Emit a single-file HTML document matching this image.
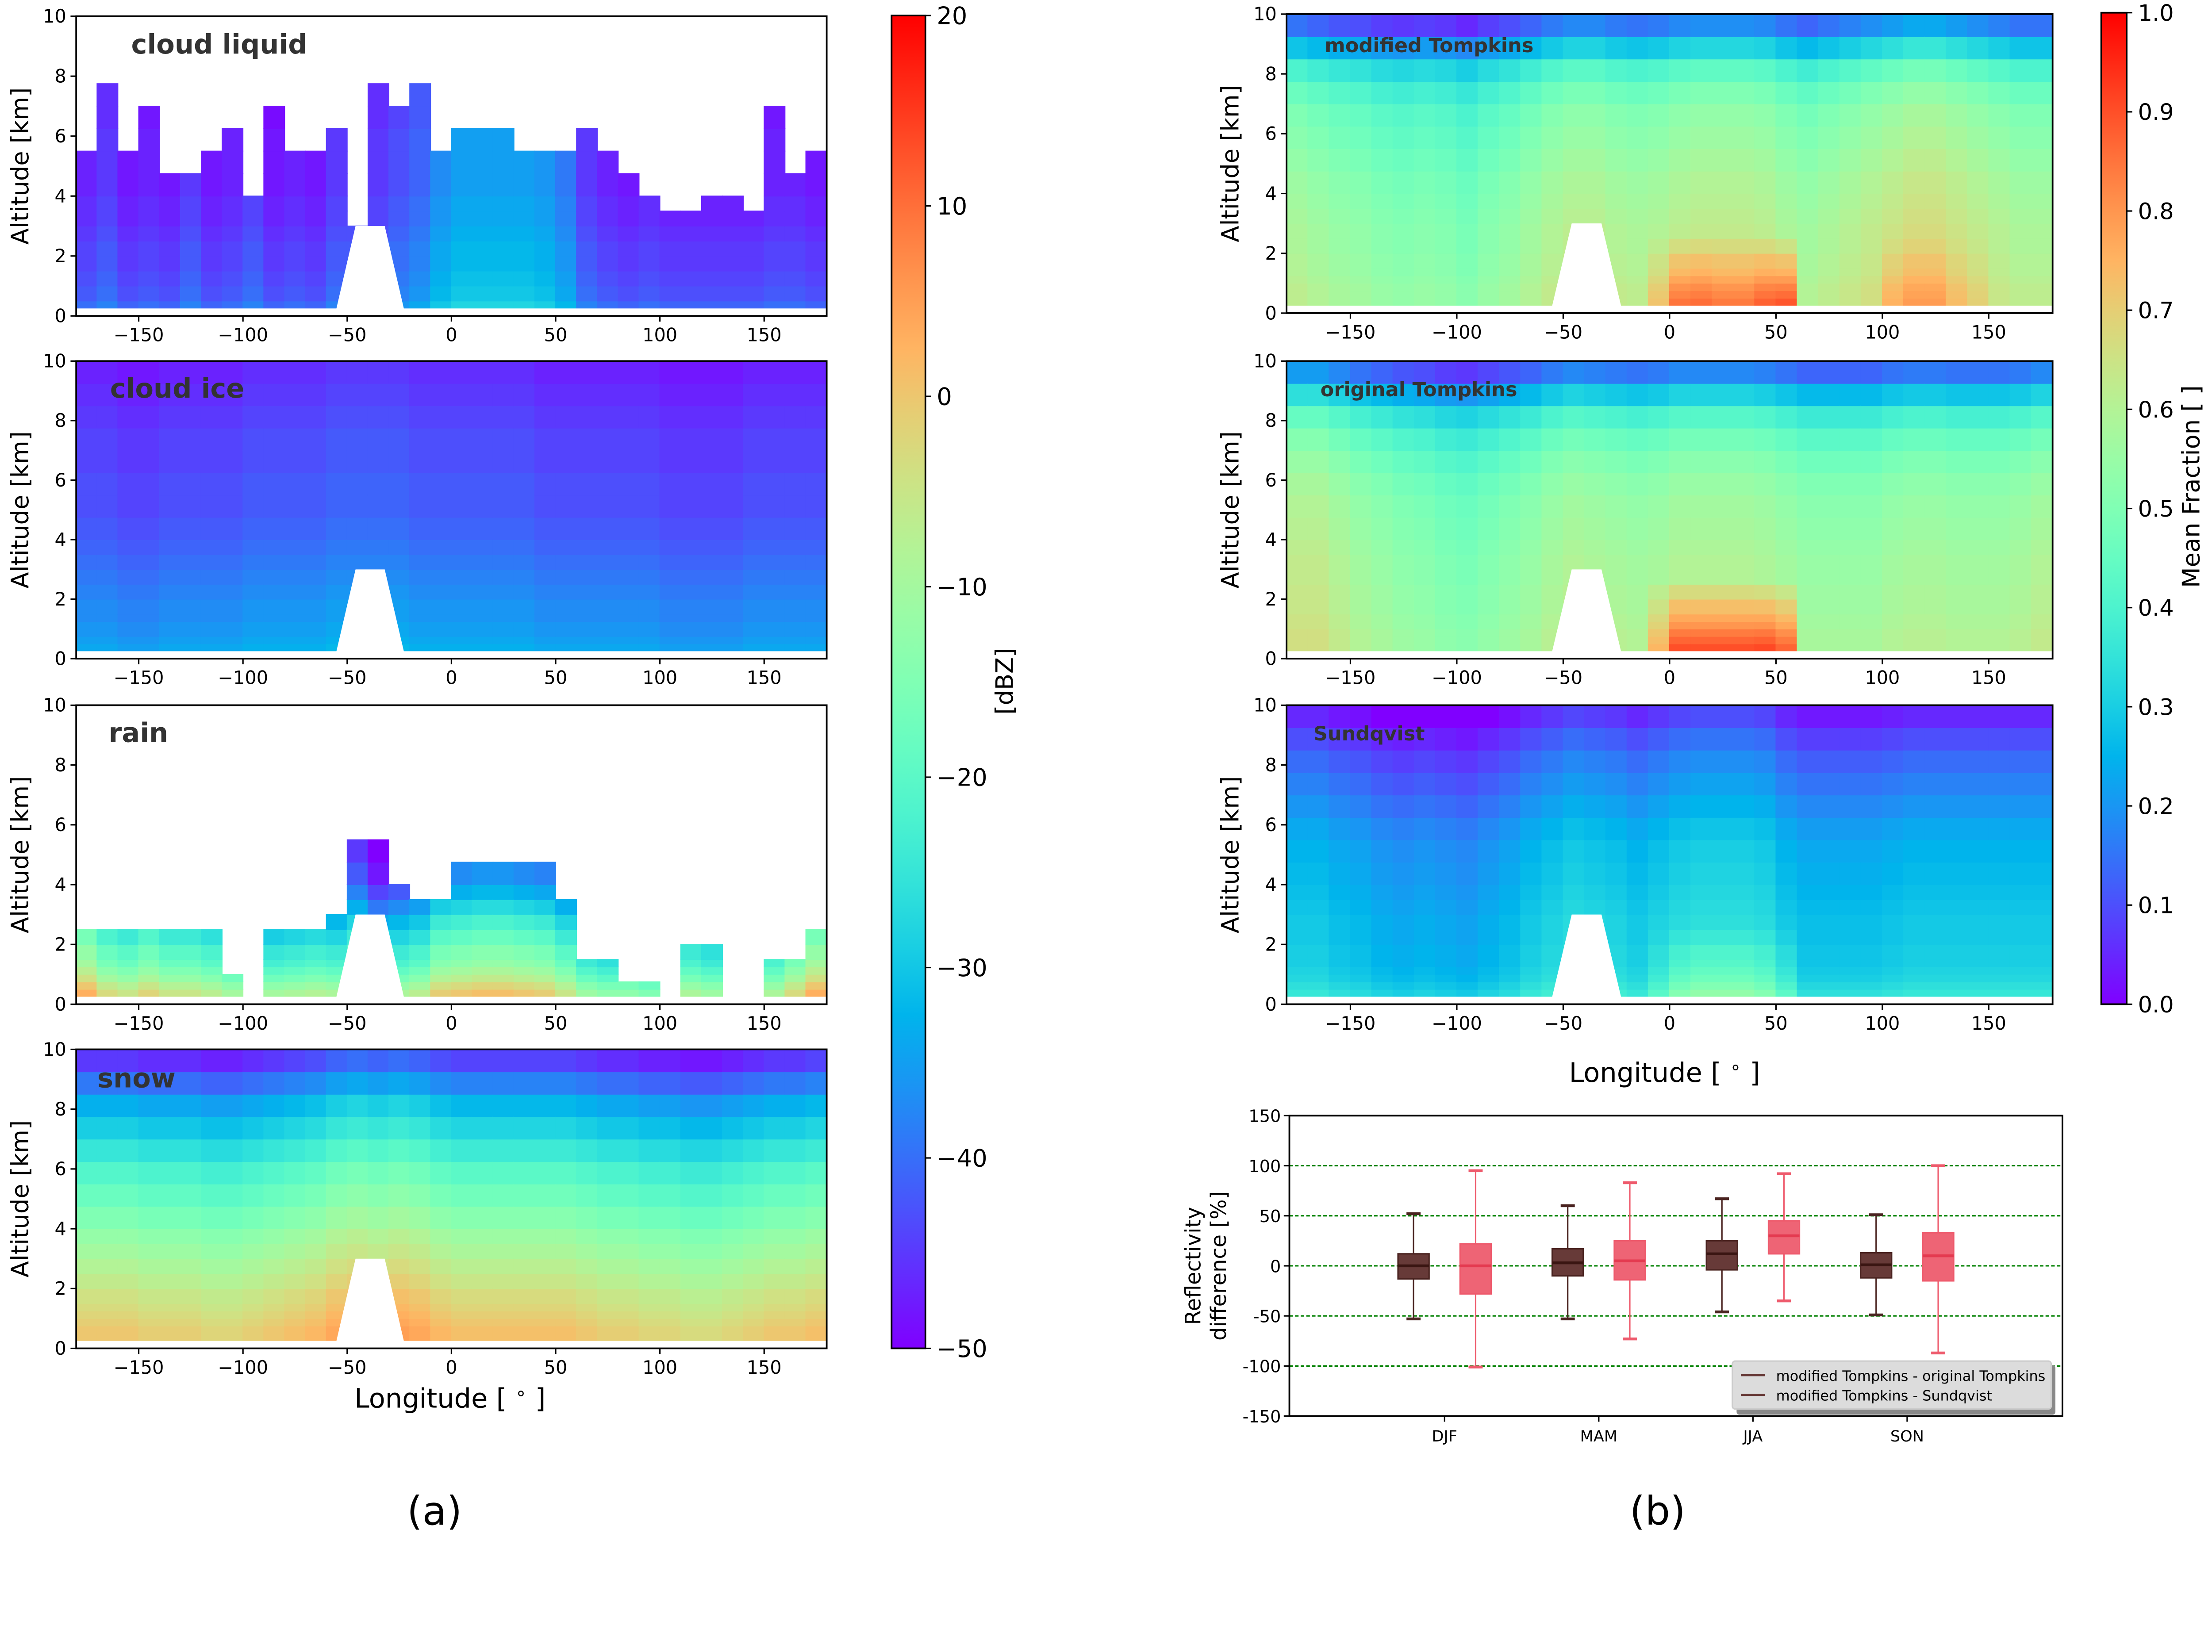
<!DOCTYPE html>
<html><head><meta charset="utf-8"><style>
html,body{margin:0;padding:0;background:#fff;overflow:hidden}
svg{display:block;position:absolute;left:0;top:0;width:100vw;height:69.6438vw}
text{font-family:"DejaVu Sans","Liberation Sans",sans-serif}
</style></head><body>
<svg id="fig" xmlns="http://www.w3.org/2000/svg" viewBox="0 0 1568 1092" preserveAspectRatio="none">
<rect width="1568" height="1092" fill="#fff"/>
<g id="layer"></g>
</svg>
<script>
// ---------- data ----------
const lonBins = Array.from({length:36},(_,i)=>-180+i*10);
const altEdges = [0.25,0.5,0.75,1,1.25,1.5,2,2.5,3,3.5,4,4.75,5.5,6.25,7,7.75,8.5,9.25,10];
const liquidProfile = [-38,-40,-40,-41,-41,-42,-42,-43,-44,-44,-45,-45,-45,-46,-46,-46,-46,-46];
const liquidLonMod = [-2,0,-3,-2,-3,0,-3,-2,0,-3,-2,-3,0,0,0,2,4,8,10,10,10,10,9,6,0,-2,-3,-2,-3,-3,-3,-3,-3,-2,-2,-3];
const liquidTops = [5.5,7.75,5.5,7,4.75,4.75,5.5,6.25,4,7,5.5,5.5,6.25,3,7.75,7,7.75,5.5,6.25,6.25,6.25,5.5,5.5,5.5,6.25,5.5,4.75,4,3.5,3.5,4,4,3.5,7,4.75,5.5];
const iceProfile = [-34,-35,-36,-36,-37,-37,-38,-39,-40,-41,-42,-43,-43,-44,-44,-45,-46,-47];
const iceLonMod = [0,0,-1,-1,0,0,0,0,1,1,1,1,2,2,2,2,1,1,1,1,1,1,0,0,0,0,0,0,-1,-1,-1,-1,0,0,0,0];
const rainProfile = [-5,-8,-12,-15,-18,-20,-24,-28,-33,-38,-42,-45,-47,-48,-48,-48,-48,-48];
const rainLonMod = [8,2,0,3,0,0,-2,-5,-8,-5,-4,-3,-4,0,-6,-4,-2,4,5,6,6,5,4,0,-6,-8,-8,-10,-6,-4,-6,-8,-6,-4,2,8];
const rainTops = [2.5,2.5,2.5,2.5,2.5,2.5,2.5,1,0,2.5,2.5,2.5,3,5,5,4,3.5,3.5,4.5,4.5,4.5,4.5,4.5,3.5,1.5,1.5,0.75,0.75,0,2,2,0,0,1.5,1.5,2.5];
const snowProfile = [1,1,0,-1,-2,-3,-5,-7,-9,-11,-14,-17,-20,-24,-28,-32,-38,-44];
const snowLonMod = [-1,-1,-1,-2,-2,-2,-3,-3,-2,-1,0,1,3,4,3,4,3,1,0,0,0,0,0,0,-1,-2,-2,-3,-3,-4,-4,-3,-2,-1,-1,0];
const modProfile = [0.6,0.6,0.6,0.59,0.58,0.58,0.57,0.57,0.56,0.55,0.54,0.52,0.5,0.48,0.44,0.38,0.26,0.13];
const modLonMod = [0.02,0,-0.02,-0.03,-0.05,-0.06,-0.05,-0.06,-0.08,-0.05,-0.03,0,0.03,0.05,0.05,0.03,0.02,0.03,0.05,0.06,0.06,0.06,0.05,0.02,0,0.02,0.04,0.06,0.08,0.1,0.1,0.08,0.06,0.04,0.02,0.02];
const modLowBoost = [0,0,0,0,0,0,0,0,0,0,0,0,0,0,0,0,0,0.1,0.22,0.22,0.2,0.2,0.25,0.3,0,0,0,0,0.08,0.1,0.1,0.06,0.04,0,0,0];
const origProfile = [0.58,0.58,0.58,0.57,0.57,0.56,0.56,0.55,0.55,0.54,0.53,0.52,0.5,0.47,0.43,0.37,0.26,0.13];
const origLonMod = [0.08,0.08,0.05,0.02,0,-0.02,-0.03,-0.05,-0.06,-0.04,-0.02,0,0.03,0.05,0.04,0.03,0.02,0.03,0.05,0.05,0.05,0.05,0.04,0.02,0,0,0,0,0.02,0.03,0.03,0.02,0.02,0.02,0.03,0.05];
const origLowBoost = [0,0,0,0,0,0,0,0,0,0,0,0,0,0,0,0,0,0.15,0.3,0.3,0.3,0.3,0.32,0.3,0,0,0,0,0,0,0,0,0,0,0,0];
const sundProfile = [0.36,0.34,0.32,0.31,0.3,0.3,0.29,0.29,0.28,0.27,0.26,0.25,0.23,0.2,0.17,0.14,0.1,0.05];
const sundLonMod = [0,0,-0.02,-0.03,-0.05,-0.06,-0.05,-0.06,-0.07,-0.05,-0.03,0,0.02,0.04,0.03,0.02,0,0.02,0.04,0.05,0.05,0.05,0.04,0,-0.02,-0.02,-0.02,-0.02,-0.01,0,0,0,0,0,0,0];
const sundLowBoost = [0,0,0,0,0,0,0,0,0,0,0,0,0,0,0,0,0,0.05,0.12,0.14,0.14,0.14,0.12,0.08,0,0,0,0,0,0,0,0,0,0,0,0];
const seasons = ["DJF","MAM","JJA","SON"];
const origWhiskLo = [-53,-53,-46,-49], origQ1=[-13,-10,-4,-12], origMed=[0,3,12,1], origQ3=[12,17,25,13], origWhiskHi=[52,60,67,51];
const sundWhiskLo = [-101,-73,-35,-87], sundQ1=[-28,-14,12,-15], sundMed=[0,5,30,10], sundQ3=[22,25,45,33], sundWhiskHi=[95,83,92,100];
const lonTicks = [-150,-100,-50,0,50,100,150];
const altTicks = [0,2,4,6,8,10];
const dbzTicks = [20,10,0,-10,-20,-30,-40,-50];
const fracTicks = [1.0,0.9,0.8,0.7,0.6,0.5,0.4,0.3,0.2,0.1,0.0];
const boxTicks = [150,100,50,0,-50,-100,-150];

const NS="http://www.w3.org/2000/svg";
const layer=document.getElementById('layer');
function mk(tag,attrs,parent){const e=document.createElementNS(NS,tag);for(const k in attrs)e.setAttribute(k,attrs[k]);(parent||layer).appendChild(e);return e;}
function rainbow(x){x=Math.max(0,Math.min(1,x));const r=Math.min(1,Math.abs(2*x-0.5)),g=Math.sin(Math.PI*x),b=Math.cos(Math.PI*x/2);
 return `rgb(${Math.round(r*255)},${Math.round(g*255)},${Math.round(b*255)})`;}

function panel(cfg){
 const {x0,x1,y0,y1,name}=cfg;
 const xs=l=>x0+(l+180)/360*(x1-x0);
 const ys=a=>y1-a/10*(y1-y0);
 const g=mk('g',{});
 
 
 const cid='clip-'+name;
 const cp=mk('clipPath',{id:cid},g);mk('rect',{x:x0,y:y0,width:x1-x0,height:y1-y0},cp);
 const cells=mk('g',{'clip-path':`url(#${cid})`},g);
 for(let i=0;i<lonBins.length;i++){
  for(let j=0;j<altEdges.length-1;j++){
   const a0=altEdges[j],a1=altEdges[j+1];
   if(cfg.tops){ if(a0>=cfg.tops[i]) continue; }
   let v=cfg.profile[j]+cfg.lonMod[i];
   if(cfg.low){const f=Math.max(0,1-(a0)/2.5);v+=cfg.low[i]*f;}
   const c=rainbow((v-cfg.vmin)/(cfg.vmax-cfg.vmin));
   const r=mk('rect',{x:xs(lonBins[i])-0.3,y:ys(a1)-0.3,width:xs(10)-xs(0)+0.6,height:ys(a0)-ys(a1)+0.6,fill:c,stroke:'none'},cells);
   
   
  }
 }
 const m=mk('polygon',{points:`${xs(-56)},${ys(0)} ${xs(-46)},${ys(3)} ${xs(-32)},${ys(3)} ${xs(-22)},${ys(0)}`,fill:'#fff'},g);
 
 
 mk('rect',{x:x0,y:ys(0.25),width:x1-x0,height:ys(0)-ys(0.25),fill:'#fff'},g);
 mk('rect',{x:x0,y:y0,width:x1-x0,height:y1-y0,fill:'none',stroke:'#000','stroke-width':1.2},g);
 for(const t of lonTicks){mk('line',{x1:xs(t),x2:xs(t),y1:y1,y2:y1+4,stroke:'#000'},g);
  const tx=mk('text',{x:xs(t),y:y1+18,'font-size':13,'text-anchor':'middle'},g);tx.textContent=(t<0?'\u2212'+(-t):t);}
 for(const t of altTicks){mk('line',{x1:x0-4,x2:x0,y1:ys(t),y2:ys(t),stroke:'#000'},g);
  const tx=mk('text',{x:x0-7,y:ys(t)+4.5,'font-size':13,'text-anchor':'end'},g);tx.textContent=t;}
 const yl=mk('text',{x:0,y:0,'font-size':17,'text-anchor':'middle',transform:`translate(${x0-34},${(y0+y1)/2}) rotate(-90)`},g);
 yl.textContent='Altitude [km]';
 
 
 const tt=mk('text',{x:cfg.tx,y:cfg.ty,'font-size':cfg.tfs,'font-weight':'bold',fill:'#333'},g);
 tt.textContent=cfg.title;
 
 
}

const L={x0:54,x1:586,vmin:-50,vmax:20};
panel({...L,y0:11.5,y1:224,name:'cloud-liquid-panel',profile:liquidProfile,lonMod:liquidLonMod,tops:liquidTops,title:'cloud liquid',tx:93,ty:38,tfs:19});
panel({...L,y0:256,y1:467,name:'cloud-ice-panel',profile:iceProfile,lonMod:iceLonMod,title:'cloud ice',tx:78,ty:282,tfs:19});
panel({...L,y0:500,y1:712,name:'rain-panel',profile:rainProfile,lonMod:rainLonMod,tops:rainTops,title:'rain',tx:77,ty:526,tfs:19});
panel({...L,y0:744,y1:956,name:'snow-panel',profile:snowProfile,lonMod:snowLonMod,title:'snow',tx:69,ty:771,tfs:19});
const R={x0:912,x1:1455,vmin:0,vmax:1};
panel({...R,y0:10,y1:222,name:'modified-tompkins-panel',profile:modProfile,lonMod:modLonMod,low:modLowBoost,title:'modified Tompkins',tx:939,ty:37,tfs:14});
panel({...R,y0:256,y1:467,name:'original-tompkins-panel',profile:origProfile,lonMod:origLonMod,low:origLowBoost,title:'original Tompkins',tx:936,ty:281,tfs:14});
panel({...R,y0:500,y1:712,name:'sundqvist-panel',profile:sundProfile,lonMod:sundLonMod,low:sundLowBoost,title:'Sundqvist',tx:931,ty:525,tfs:14});

function xlabel(x,y,name){const t=mk('text',{x:x,y:y,'font-size':19,'text-anchor':'middle'});t.innerHTML='Longitude [ <tspan font-size="13" dy="-6">\u2218</tspan><tspan dy="6"> ]</tspan>';
 
 }
xlabel(319,998,'x-axis-title-left');xlabel(1180,767,'x-axis-title-right');

function colorbar(cfg){
 const g=mk('g',{});
 
 
 const gid='grad-'+cfg.name;const defs=mk('defs',{},g);const lg=mk('linearGradient',{id:gid,x1:0,y1:1,x2:0,y2:0},defs);
 for(let k=0;k<=20;k++)mk('stop',{offset:k/20,'stop-color':rainbow(k/20)},lg);
 mk('rect',{x:cfg.x,y:cfg.y0,width:cfg.w,height:cfg.y1-cfg.y0,fill:`url(#${gid})`,stroke:'#000','stroke-width':1.2},g);
 for(const t of cfg.ticks){const y=cfg.y1-(t-cfg.vmin)/(cfg.vmax-cfg.vmin)*(cfg.y1-cfg.y0);
  mk('line',{x1:cfg.x+cfg.w,x2:cfg.x+cfg.w+4,y1:y,y2:y,stroke:'#000'},g);
  const tx=mk('text',{x:cfg.x+cfg.w+8,y:y+cfg.tfs*0.36,'font-size':cfg.tfs},g);tx.textContent=cfg.fmt(t);}
 const lb=mk('text',{x:0,y:0,'font-size':17,'text-anchor':'middle',transform:`translate(${cfg.lx},${cfg.ly}) rotate(-90)`},g);lb.textContent=cfg.label;
}
colorbar({name:'dbz-colorbar',x:632,w:24,y0:11,y1:956,vmin:-50,vmax:20,ticks:dbzTicks,fmt:t=>t<0?'\u2212'+(-t):String(t),label:'[dBZ]',lx:718,ly:483,tfs:17});
colorbar({name:'fraction-colorbar',x:1489.5,w:18,y0:9,y1:712,vmin:0,vmax:1,ticks:fracTicks,fmt:t=>t.toFixed(1),label:'Mean Fraction [ ]',lx:1559,ly:345,tfs:16});

(function(){
 const x0=914,x1=1462,y0=791,y1=1004;
 const ys=v=>y1-(v+150)/300*(y1-y0);
 const xc=i=>1024+i*109.3;
 const g=mk('g',{});
 
 
 for(const t of [100,50,0,-50,-100])mk('line',{x1:x0,x2:x1,y1:ys(t),y2:ys(t),stroke:'#008000','stroke-width':1,'stroke-dasharray':'2.5,1.5'},g);
 function box(i,off,lo,q1,md,q3,hi,fill,stroke,mcol,name){
  const bx=xc(i)+off,w=22;const bg=mk('g',{},g);
  
  
  mk('line',{x1:bx,x2:bx,y1:ys(hi),y2:ys(q3),stroke:stroke,'stroke-width':1},bg);
  mk('line',{x1:bx,x2:bx,y1:ys(q1),y2:ys(lo),stroke:stroke,'stroke-width':1},bg);
  mk('line',{x1:bx-5,x2:bx+5,y1:ys(hi),y2:ys(hi),stroke:stroke,'stroke-width':2},bg);
  mk('line',{x1:bx-5,x2:bx+5,y1:ys(lo),y2:ys(lo),stroke:stroke,'stroke-width':2},bg);
  mk('rect',{x:bx-w/2,y:ys(q3),width:w,height:ys(q1)-ys(q3),fill:fill,stroke:stroke,'stroke-width':1},bg);
  mk('line',{x1:bx-w/2,x2:bx+w/2,y1:ys(md),y2:ys(md),stroke:mcol,'stroke-width':2},bg);
 }
 for(let i=0;i<seasons.length;i++){
  box(i,-22,origWhiskLo[i],origQ1[i],origMed[i],origQ3[i],origWhiskHi[i],'#673a38','#4a2320','#3a1512','box-orig-'+seasons[i].toLowerCase());
  box(i,22,sundWhiskLo[i],sundQ1[i],sundMed[i],sundQ3[i],sundWhiskHi[i],'#ee6475','#ee5a6c','#e43a50','box-sund-'+seasons[i].toLowerCase());
  mk('line',{x1:xc(i),x2:xc(i),y1:y1,y2:y1+4,stroke:'#000'},g);
  const t=mk('text',{x:xc(i),y:y1+18,'font-size':11,'text-anchor':'middle','font-family':'Liberation Sans'},g);t.textContent=seasons[i];
 }
 mk('rect',{x:x0,y:y0,width:x1-x0,height:y1-y0,fill:'none',stroke:'#000','stroke-width':1.2},g);
 for(const t of boxTicks){mk('line',{x1:x0-4,x2:x0,y1:ys(t),y2:ys(t),stroke:'#000'},g);
  const tx=mk('text',{x:x0-6,y:ys(t)+4.5,'font-size':12,'text-anchor':'end','font-family':'Liberation Sans'},g);tx.textContent=t;}
 const yl=mk('text',{x:0,y:0,'font-size':15,'text-anchor':'middle',transform:`translate(${851},${(y0+y1)/2}) rotate(-90)`},g);yl.textContent='Reflectivity';
 const yl2=mk('text',{x:0,y:0,'font-size':15,'text-anchor':'middle',transform:`translate(${869},${(y0+y1)/2}) rotate(-90)`},g);yl2.textContent='difference [%]';
 const lg=mk('g',{},g);
 
 
 mk('rect',{x:1231,y:968,width:226,height:35,fill:'#888',rx:2},lg);
 mk('rect',{x:1228,y:965,width:226,height:34,fill:'#dcdcdc',stroke:'#ccc',rx:2},lg);
 mk('line',{x1:1234,x2:1251,y1:975,y2:975,stroke:'#673a38','stroke-width':1.5},lg);
 mk('line',{x1:1234,x2:1251,y1:989,y2:989,stroke:'#673a38','stroke-width':1.5},lg);
 const l1=mk('text',{x:1259,y:979,'font-size':10,'font-family':'Liberation Sans'},lg);l1.textContent='modified Tompkins - original Tompkins';
 const l2=mk('text',{x:1259,y:993,'font-size':10,'font-family':'Liberation Sans'},lg);l2.textContent='modified Tompkins - Sundqvist';
})();

const a=mk('text',{x:308,y:1081,'font-size':28,'text-anchor':'middle','font-family':'Liberation Serif'});a.textContent='(a)';


const b=mk('text',{x:1175,y:1081,'font-size':28,'text-anchor':'middle','font-family':'Liberation Serif'});b.textContent='(b)';


</script>
</body></html>
